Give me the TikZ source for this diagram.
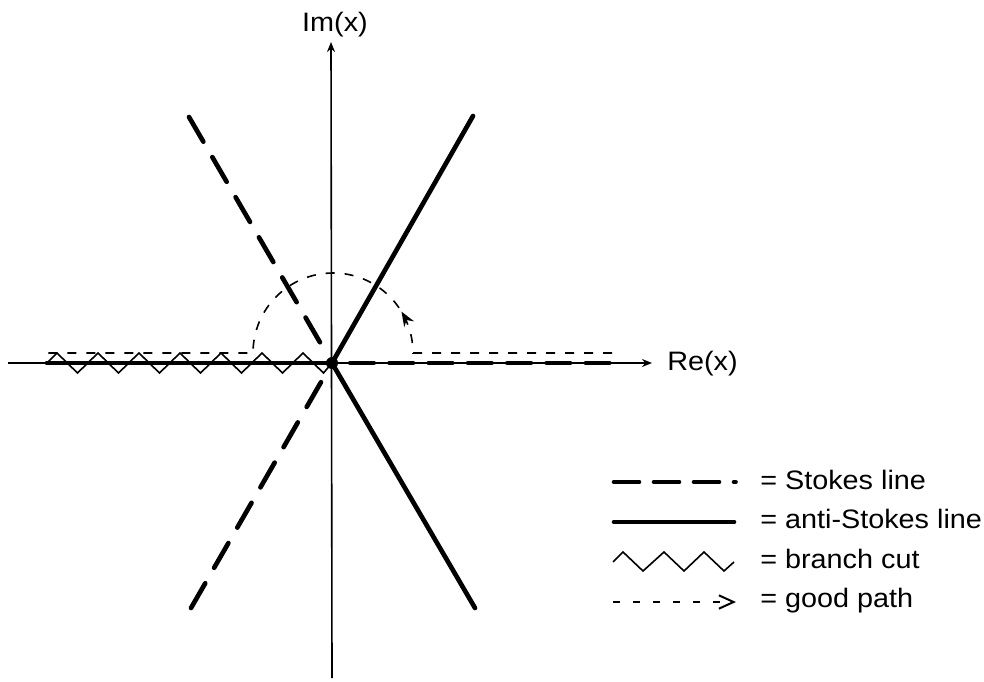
\documentclass[tikz,border=0pt]{standalone}
\usepackage{fontspec}
\setmainfont{Liberation Sans}[FakeStretch=1.08]
\usetikzlibrary{arrows.meta,decorations.markings,calc}
\begin{document}
\begin{tikzpicture}[x=0.75pt,y=-0.75pt,
  axisline/.style={line width=1.2pt,-{Stealth[length=7.5pt,width=6pt]}},
  heavy/.style={line width=3.5pt,line cap=round},
  stokesdiag/.style={heavy,dash pattern=on 21.4pt off 13.4pt},
  stokesaxis/.style={heavy,dash pattern=on 17.6pt off 11.85pt},
  zig/.style={line width=1.2pt,line join=miter},
  goodpath/.style={line width=1.2pt,dash pattern=on 6.75pt off 7.5pt},
  lbl/.style={inner sep=0pt,font=\fontsize{20pt}{24pt}\selectfont}]
\useasboundingbox (0,0) rectangle (984,681);
% origin and line ends
\coordinate (O) at (332,363);
\coordinate (ul) at (189,117);
\coordinate (ur) at (473,116);
\coordinate (ll) at (191,608);
\coordinate (lr) at (475,608);
% axes
\draw[axisline] (8,363) -- (652,363) coordinate (reend);
\draw[axisline] (332,678) -- (331,42) coordinate (imend);
\node[lbl,anchor=base west] (re) at (667,370) {Re(x)};
\node[lbl,anchor=base] (im) at (335,32) {Im(x)};
% anti-Stokes lines
\draw[heavy] (O) -- (ur);
\draw[heavy] (O) -- (lr);
\draw[heavy] (47,363) -- (O);
% Stokes lines
\draw[stokesdiag] (ul) -- ($(O)!0.067!(ul)$);
\draw[stokesdiag] (ll) -- ($(O)!0.067!(ll)$);
\draw[stokesaxis] (350.25,363) -- (609.75,363);
% branch cut
\draw[zig] (47,363)
  \foreach \k in {0,...,6}{ -- ({57+41*\k},353) -- ({77.5+41*\k},373) } -- (O);
% origin dot
\fill (O) circle[radius=4.5pt];
% good path
\draw[goodpath,postaction={decorate},
  decoration={markings,mark=at position 0.37 with {\arrow{Stealth[length=11pt,width=8.5pt]}}}]
  (612,353) -- (413,353) arc[start angle=0,end angle=180,radius=60pt] -- (48,353);
% legend
\draw[heavy,dash pattern=on 18.75pt off 11.25pt] (614,482) -- (735.5,482);
\node[lbl,anchor=base west] (l1) at (760,489) {= Stokes line};
\draw[heavy] (614,522) -- (734,522);
\node[lbl,anchor=base west] (l2) at (760,528) {= anti-Stokes line};
\draw[zig] (613,562) -- (623,552) -- (643,571) -- (664,552) -- (684,571) -- (704,552) -- (724,571) -- (734,562);
\node[lbl,anchor=base west] (l3) at (760,568) {= branch cut};
\draw[line width=1.3pt,dash pattern=on 5.25pt off 9.75pt,-{Straight Barb[length=11pt,width=10pt,line width=1.5pt]}] (613,602) -- (736,602);
\node[lbl,anchor=base west] (l4) at (760,607) {= good path};
\end{tikzpicture}
\end{document}
